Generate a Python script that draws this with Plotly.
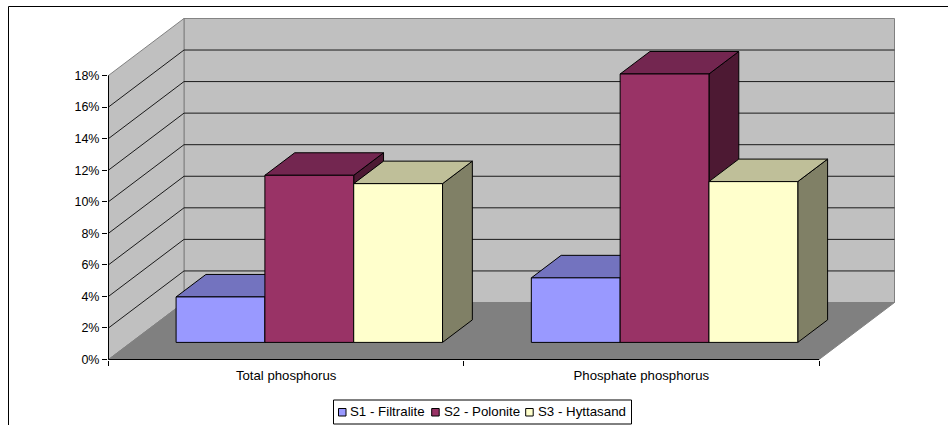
import plotly.graph_objects as go

# ---- data ----
categories = ["Total phosphorus", "Phosphate phosphorus"]
series_names = ["S1 - Filtralite", "S2 - Polonite", "S3 - Hyttasand"]
s1_values = [2.88, 4.09]
s2_values = [10.59, 17.01]
s3_values = [10.06, 10.19]
y_ticks = [0, 2, 4, 6, 8, 10, 12, 14, 16, 18]

# ---- styles ----
front_colors = ["#9999FF", "#993366", "#FFFFCC"]
top_colors = ["#7373BF", "#732650", "#BFBF99"]
side_colors = ["#5C5C99", "#4D1933", "#808066"]
WALL = "#C0C0C0"
FLOOR = "#808080"
GRID = "#1A1A1A"
FONT = "Liberation Sans, Arial, sans-serif"

W, H = 948, 425
L, R, T, B = 108, 895, 18, 360               # plot area in whole pixels
X0_PX, Y0_PX = 108.5, 359.5                  # where the origin sits
Y_MAX = 18.0
CAT_PX = 355.25                              # px per category
PCT_PX = 15.78                               # px per percent
DX = 75.5 / CAT_PX                           # depth vector in axis units
DY = 57.0 / PCT_PX
BAR_W = 0.25
GROUP_GAP = 0.1265
D0, D1 = 0.3, 0.695                          # bar depth extent


def proj(x, y, d=0.0):
    return x + d * DX, y + d * DY


def poly(points, fill, line, name, width=1):
    xs, ys = zip(*(points + [points[0]]))
    return go.Scatter(x=xs, y=ys, mode="lines", fill="toself", fillcolor=fill,
                      line=dict(color=line, width=width), name=name,
                      showlegend=False, hoverinfo="skip", cliponaxis=False)


def seg(p, q, color, name, width=1):
    return go.Scatter(x=[p[0], q[0]], y=[p[1], q[1]], mode="lines",
                      line=dict(color=color, width=width), name=name,
                      showlegend=False, hoverinfo="skip", cliponaxis=False)


traces = []
# walls and floor
traces.append(poly([proj(0, 0, 1), proj(2, 0, 1), proj(2, Y_MAX, 1), proj(0, Y_MAX, 1)], WALL, FLOOR, "back wall"))
traces.append(poly([proj(0, 0), proj(0, 0, 1), proj(0, Y_MAX, 1), proj(0, Y_MAX)], WALL, FLOOR, "side wall"))
traces.append(poly([proj(0, 0), proj(2, 0), proj(2, 0, 1), proj(0, 0, 1)], FLOOR, FLOOR, "floor"))

# gridlines
for t in y_ticks[1:-1]:
    traces.append(seg(proj(0, t), proj(0, t, 1), GRID, f"side grid {t}"))
    traces.append(seg(proj(0, t, 1), proj(2, t, 1), GRID, f"back grid {t}"))

# axis lines
traces.append(seg(proj(0, 0), proj(0, Y_MAX), "#000000", "y axis"))
traces.append(seg(proj(0, 0), proj(2, 0), "#000000", "x axis"))

# bars, back to front, left to right
for g in range(len(categories)):
    for i, vals in enumerate([s1_values, s2_values, s3_values]):
        v = vals[g]
        x0 = g + GROUP_GAP + i * BAR_W
        x1 = x0 + BAR_W
        traces.append(poly([proj(x1, 0, D0), proj(x1, 0, D1), proj(x1, v, D1), proj(x1, v, D0)],
                           side_colors[i], "#000000", f"{series_names[i]} side"))
        traces.append(poly([proj(x0, v, D0), proj(x1, v, D0), proj(x1, v, D1), proj(x0, v, D1)],
                           top_colors[i], "#000000", f"{series_names[i]} top"))
        traces.append(poly([proj(x0, 0, D0), proj(x1, 0, D0), proj(x1, v, D0), proj(x0, v, D0)],
                           front_colors[i], "#000000", f"{series_names[i]} {categories[g]}"))

fig = go.Figure(traces)


def px(x):
    return (x - L) / (R - L)


def py(y):
    return (B - y) / (B - T)


shapes = [
    dict(type="line", xref="paper", yref="paper", x0=px(8.5), x1=px(8.5), y0=py(6.5), y1=py(425), line=dict(color="#000000", width=1)),
    dict(type="line", xref="paper", yref="paper", x0=px(8.5), x1=px(948), y0=py(6.5), y1=py(6.5), line=dict(color="#000000", width=1)),
    dict(type="rect", xref="paper", yref="paper", x0=px(333.5), x1=px(631.5), y0=py(400), y1=py(424), line=dict(color="#000000", width=1), fillcolor="#FFFFFF"),
]
annotations = []
swatch_x = [338.5, 431.7, 525.7]
text_x = [350, 443.5, 537.5]
for i, name in enumerate(series_names):
    shapes.append(dict(type="rect", xref="paper", yref="paper", x0=px(swatch_x[i]), x1=px(swatch_x[i] + 7.5),
                       y0=py(408.5), y1=py(416), line=dict(color="#000000", width=1), fillcolor=front_colors[i]))
    annotations.append(dict(xref="paper", yref="paper", x=px(text_x[i] - 1), y=py(412), text=name, showarrow=False,
                            xanchor="left", yanchor="middle", borderpad=0, font=dict(family=FONT, size=13.3, color="#000000")))

fig.update_layout(
    width=W, height=H,
    margin=dict(l=L, r=W - R, t=T, b=H - B, pad=0, autoexpand=False),
    paper_bgcolor="#FFFFFF", plot_bgcolor="#FFFFFF",
    showlegend=False,
    shapes=shapes, annotations=annotations,
    font=dict(family=FONT, size=12, color="#000000"),
    xaxis=dict(range=[(L - X0_PX) / CAT_PX, (R - X0_PX) / CAT_PX], tickmode="array", tickvals=[0.5, 1.5], ticktext=categories,
               showgrid=False, zeroline=False, showline=False, ticks="outside", ticklen=3,
               tickcolor="rgba(0,0,0,0)", tickfont=dict(family=FONT, size=13.2),
               minor=dict(tickmode="array", tickvals=[0, 1, 2], ticks="outside", ticklen=5, tickcolor="#000000", showgrid=False)),
    yaxis=dict(range=[(Y0_PX - B) / PCT_PX, (Y0_PX - T) / PCT_PX], tickmode="array", tickvals=y_ticks, ticktext=[f"{t}%" for t in y_ticks],
               showgrid=False, zeroline=False, showline=False, ticks="outside", ticklen=5,
               tickcolor="#000000", tickfont=dict(family=FONT, size=12.5)),
)

fig.write_html("out.html", config={"displayModeBar": False},
               post_script="document.body.style.margin='0';document.body.style.overflow='hidden';")
